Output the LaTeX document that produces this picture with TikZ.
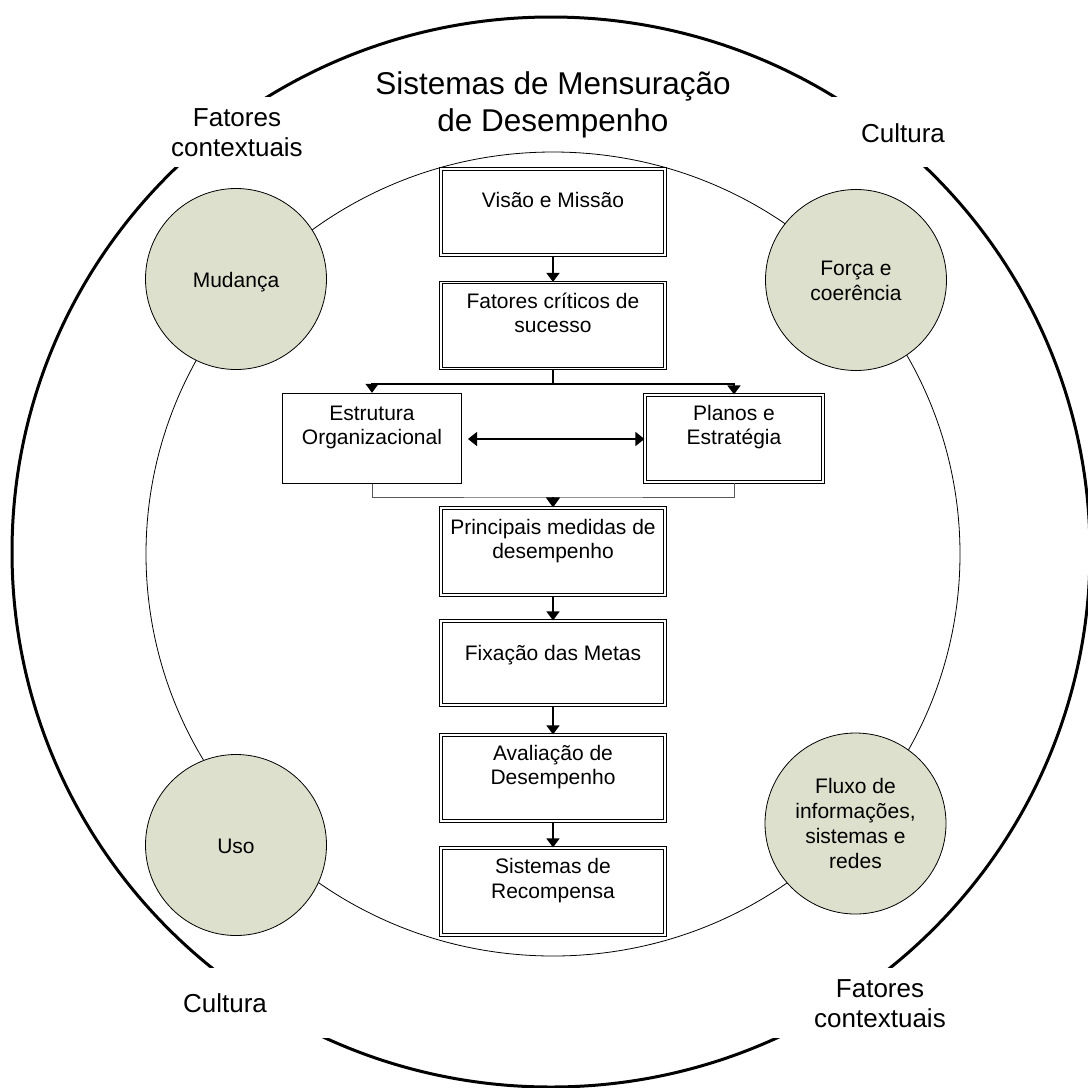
\documentclass[tikz,border=0pt]{standalone}
\usepackage{fontspec}
\setmainfont{Liberation Sans}
\usetikzlibrary{arrows.meta}
\definecolor{circfill}{RGB}{221,224,204}
\begin{document}
\begin{tikzpicture}[x=1pt,y=-1pt,
  flowbox/.style={draw, double, double distance=1.6pt, line width=1.1pt, fill=white, inner sep=0pt, minimum width=224pt, minimum height=86pt},
  singlebox/.style={draw, line width=1.4pt, fill=white, inner sep=0pt, minimum width=179pt, minimum height=90pt},
  boxtext/.style={anchor=base, align=center, inner sep=0pt, font=\fontsize{21}{24.5}\selectfont},
  circtext/.style={anchor=base, align=center, inner sep=0pt, font=\fontsize{21}{25}\selectfont},
  labeltext/.style={anchor=base, align=center, inner sep=0pt, font=\fontsize{26}{30}\selectfont},
  factor/.style={circle, draw, line width=0.8pt, fill=circfill, minimum size=181pt, inner sep=0pt},
  tip/.style={-{Triangle[width=13pt,length=9pt]}},
  conn/.style={line width=1.3pt},
]
\useasboundingbox (0,0) rectangle (1088,1088);
\fill[white] (0,0) rectangle (1088,1088);

% outer and inner rings
\draw[line width=3pt] (551,552) ellipse [x radius=539, y radius=535];
\fill[white] (160,97) rectangle (300,167);
\fill[white] (820,97) rectangle (975,167);
\fill[white] (150,968) rectangle (330,1038);
\fill[white] (770,968) rectangle (960,1038);
\draw[line width=0.8pt] (553,554) ellipse [x radius=407, y radius=402];

% title and ring labels (base = baseline of last line)
\node[anchor=base, align=center, inner sep=0pt, font=\fontsize{31.5}{37}\selectfont] (title) at (553,131) {Sistemas de Mensuração\\de Desempenho};
\node[labeltext] (lab-tl) at (237,156) {Fatores\\contextuais};
\node[labeltext] (lab-tr) at (903,142) {Cultura};
\node[labeltext] (lab-bl) at (225,1012) {Cultura};
\node[labeltext] (lab-br) at (880,1027) {Fatores\\contextuais};

% factor circles
\node[factor] (mud) at (236,279) {};
\node[circtext] (t-mud) at (236,287) {Mudança};
\node[factor] (for) at (856,280) {};
\node[circtext] (t-for) at (856,300) {Força e\\coerência};
\node[factor] (uso) at (236,845) {};
\node[circtext] (t-uso) at (236,853) {Uso};
\node[factor] (flu) at (855.5,823.5) {};
\node[circtext] (t-flu) at (855.5,868) {Fluxo de\\informações,\\sistemas e\\redes};

% flow boxes
\node[flowbox] (vm) at (553,212) {};
\node[boxtext] (t-vm) at (553,207) {Visão e Missão};
\node[flowbox] (fc) at (553,325.5) {};
\node[boxtext] (t-fc) at (553,332.5) {Fatores críticos de\\sucesso};
\node[singlebox] (est) at (372,438.5) {};
\node[boxtext] (t-est) at (372,444.5) {Estrutura\\Organizacional};
\node[flowbox, minimum width=178pt, minimum height=87pt] (pl) at (734,438.5) {};
\node[boxtext] (t-pl) at (734,444.5) {Planos e\\Estratégia};
\node[flowbox, minimum height=87pt] (pr) at (553,551.5) {};
\node[boxtext] (t-pr) at (553,558.5) {Principais medidas de\\desempenho};
\node[flowbox, minimum height=84pt] (fx) at (553,663) {};
\node[boxtext] (t-fx) at (553,660) {Fixação das Metas};
\node[flowbox] (av) at (553,778) {};
\node[boxtext] (t-av) at (553,784.5) {Avaliação de\\Desempenho};
\node[flowbox, minimum height=87pt] (sr) at (553,891.5) {};
\node[boxtext] (t-sr) at (553,898) {Sistemas de\\Recompensa};

% connectors
\draw[conn, tip] (vm.south) -- (fc.north);
\coordinate (split) at (553,384);
\draw[conn] (fc.south) -- (split);
\draw[conn, tip] (split) -| (est.north);
\draw[conn, tip] (split) -| (pl.north);
\coordinate (dl) at (468,439);
\draw[conn, {Triangle[width=14pt,length=9pt]}-{Triangle[width=14pt,length=9pt]}] (dl) -- (pl.west |- dl);
\coordinate (join) at (553,497);
\draw[line width=0.9pt, black!65] (est.south) |- (join) -| (pl.south);
\draw[conn, -{Triangle[width=14pt,length=10pt]}] (join) -- (pr.north);
\draw[conn, tip] (pr.south) -- (fx.north);
\draw[conn, tip] (fx.south) -- (av.north);
\draw[conn, tip] (av.south) -- (sr.north);
\end{tikzpicture}
\end{document}
